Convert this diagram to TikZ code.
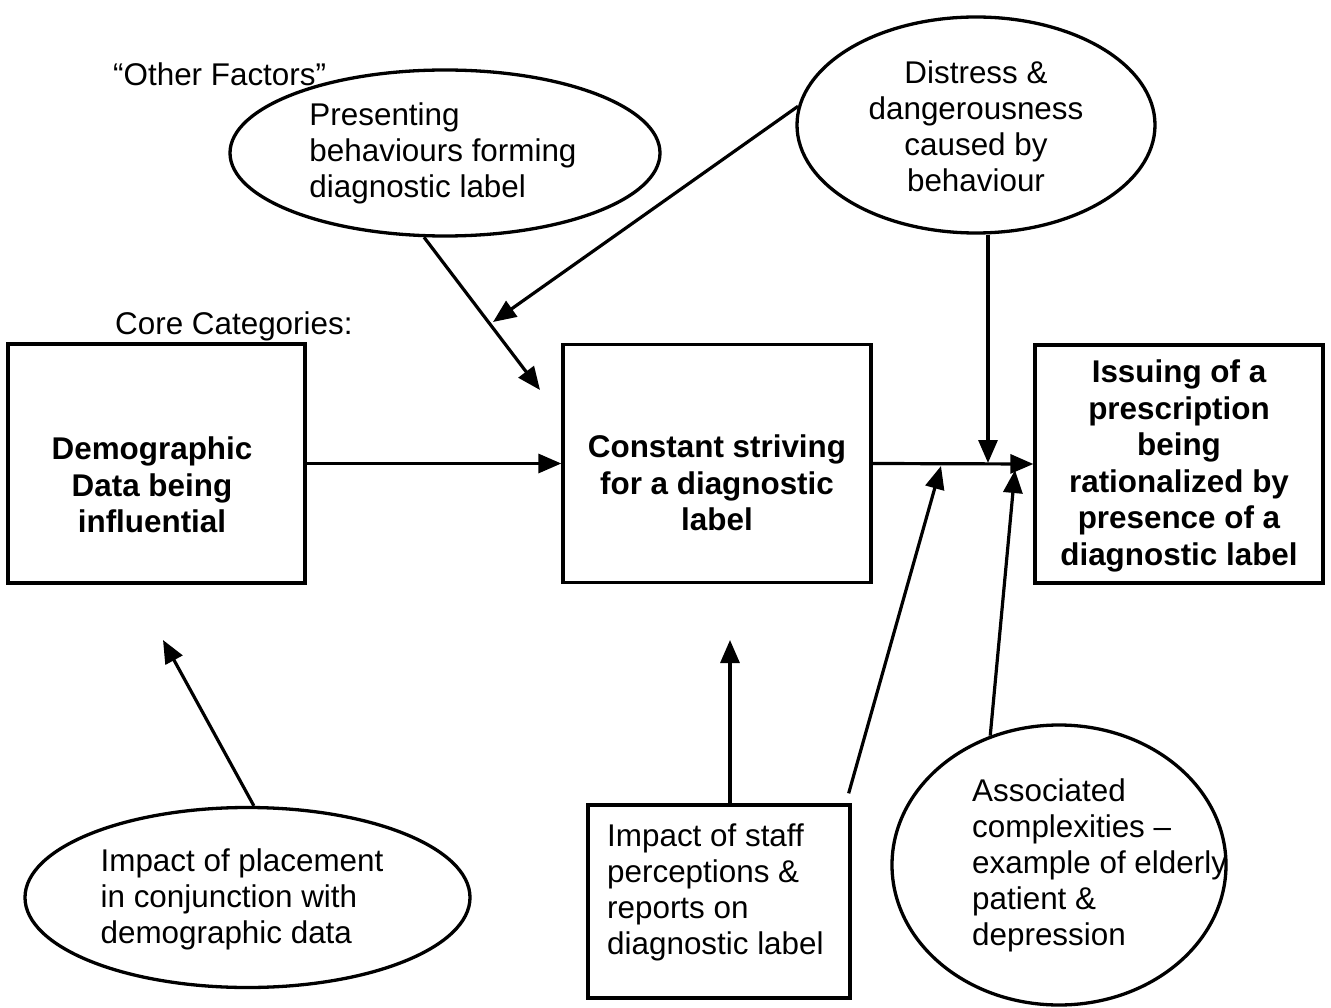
\documentclass[tikz,border=0pt]{standalone}
\usepackage{fontspec}
\setmainfont{Liberation Sans}
\usetikzlibrary{shapes.geometric,arrows.meta}
\tikzset{
  txt/.style={inner sep=0pt, font=\fontsize{31.4}{36}\selectfont},
  btxt/.style={inner sep=0pt, align=center, font=\fontsize{31.4}{36.5}\selectfont\bfseries},
  boxx/.style={draw, line width=3.3pt, inner sep=0pt},
  oval/.style={draw, ellipse, line width=3.3pt, inner sep=0pt},
  arr/.style={line width=3.2pt, -{Triangle[length=23pt,width=19pt]}},
}
\begin{document}
\begin{tikzpicture}[x=1pt,y=-1pt]
\useasboundingbox (0,0) rectangle (1331,1008);
% labels
\node[txt, anchor=west] (other) at (113,74) {“Other Factors”};
\node[txt, anchor=west] (core) at (115,326) {Core Categories:};
% ellipses
\node[oval, minimum width=430pt, minimum height=166pt, fill=white] (pres) at (445,153) {};
\node[txt, align=left] (prestext) at (443,153) {Presenting\\behaviours forming\\diagnostic label};
\node[oval, minimum width=358pt, minimum height=216pt] (dist) at (976,125) {};
\node[txt, align=center] (disttext) at (976,126) {Distress \&\\dangerousness\\caused by\\behaviour};
\node[oval, minimum width=445pt, minimum height=180pt] (place) at (247.5,897.5) {};
\node[txt, align=left] (placetext) at (242,899) {Impact of placement\\in conjunction with\\demographic data};
\node[oval, minimum width=334pt, minimum height=280pt] (assoc) at (1059,865) {};
\node[txt, align=left, anchor=west] (assoctext) at (972,865) {Associated\\complexities –\\example of elderly\\patient \&\\depression};
% boxes
\node[boxx, minimum width=297pt, minimum height=239pt] (dem) at (156.5,463.5) {};
\node[btxt] (demtext) at (152,485) {Demographic\\Data being\\influential};
\node[boxx, minimum width=308pt, minimum height=238pt] (const) at (717,463.5) {};
\node[btxt] (consttext) at (717,483) {Constant striving\\for a diagnostic\\label};
\node[boxx, minimum width=288pt, minimum height=238pt] (iss) at (1179,464) {};
\node[btxt] (isstext) at (1179,466) {Issuing of a\\prescription\\being\\rationalized by\\presence of a\\diagnostic label};
\node[boxx, minimum width=262pt, minimum height=193pt] (staff) at (719,901.5) {};
\node[txt, align=left, anchor=west] (stafftext) at (607,892) {Impact of staff\\perceptions \&\\reports on\\diagnostic label};
% junction / free ends
\coordinate (jstaff) at (941,466);
\coordinate (jdist) at (988,463);
\coordinate (jassoc) at (1015,470);
\coordinate (tpres) at (540,390);
\coordinate (tdist) at (493,322);
\coordinate (tstaff) at (730,640);
\coordinate (tplace) at (163,640);
% connectors
\draw[arr] (dem.east) -- (const.west);
\draw[arr] (const.east) -- (iss.west);
\draw[arr] (dist.south -| jdist) -- (jdist);
\draw[arr] (dist.174) -- (tdist);
\draw[arr] (pres.256) -- (tpres);
\draw[arr] ([xshift=-3pt,yshift=10pt]staff.north east) -- (jstaff);
\draw[arr] (staff.north -| tstaff) -- (tstaff);
\draw[arr] (assoc.118) -- (jassoc);
\draw[arr] (place.86) -- (tplace);
\end{tikzpicture}
\end{document}
